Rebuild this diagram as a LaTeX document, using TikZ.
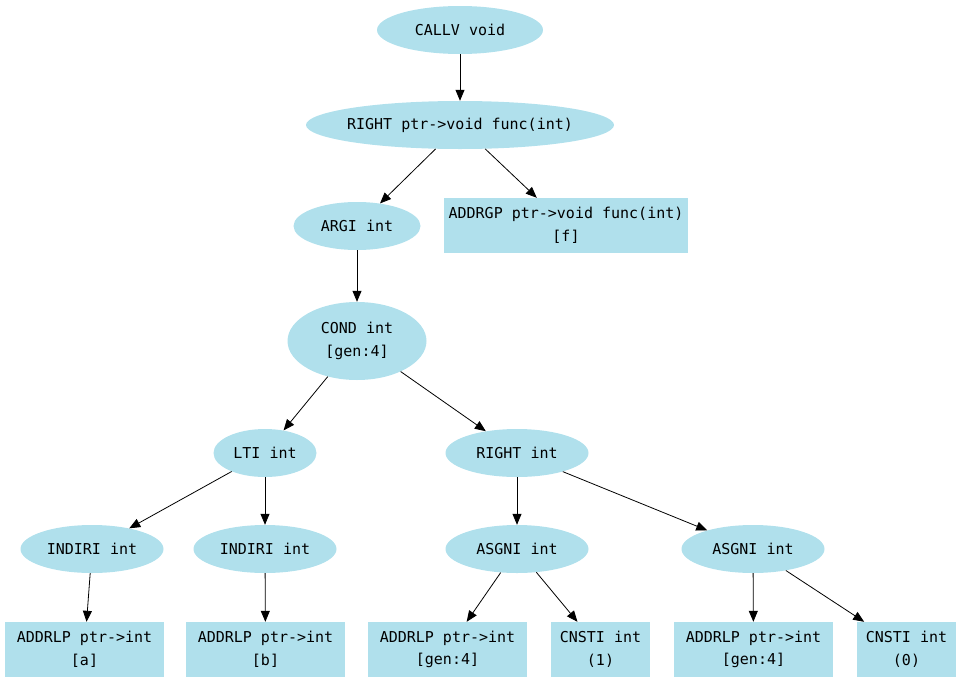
\documentclass[tikz,border=0pt]{standalone}
\usepackage{fontspec}
\setmonofont{DejaVu Sans Mono}
\usetikzlibrary{shapes.geometric,arrows.meta}
\definecolor{nodefill}{HTML}{B0E0EC}
\begin{document}
\begin{tikzpicture}[x=1pt,y=-1pt,
  every node/.style={font=\ttfamily\fontsize{15}{22.5}\selectfont,
    fill=nodefill, inner sep=0pt, align=center},
  oval/.style={ellipse, minimum height=48pt},
  leaf/.style={rectangle, minimum height=55pt},
  edge/.style={-{Triangle[length=11pt,width=9pt]}, line width=0.8pt}]
\useasboundingbox (0,0) rectangle (961,683);

% inner nodes
\node[oval, minimum width=166pt] (callv)  at (460,30)  {CALLV void};
\node[oval, minimum width=308pt, inner xsep=-5pt] (right1) at (460,125) {RIGHT ptr->void func(int)};
\node[oval, minimum width=127pt] (argi)   at (357,226) {ARGI int};
\node[oval, minimum width=139pt, minimum height=78pt] (cond) at (357,341) {COND int\\{}[gen:4]};
\node[oval, minimum width=103pt] (lti)    at (265,453) {LTI int};
\node[oval, minimum width=143pt] (right2) at (517,453) {RIGHT int};
\node[oval, minimum width=143pt] (ind1)   at (92,549)  {INDIRI int};
\node[oval, minimum width=143pt] (ind2)   at (265,549) {INDIRI int};
\node[oval, minimum width=143pt] (asg1)   at (517,549) {ASGNI int};
\node[oval, minimum width=143pt] (asg2)   at (753,549) {ASGNI int};

% leaves
\node[leaf, minimum width=244pt] (addrgp) at (566,225.5) {ADDRGP ptr->void func(int)\\{}[f]};
\node[leaf, minimum width=159pt] (lpa)  at (84.5,649.5)  {ADDRLP ptr->int\\{}[a]};
\node[leaf, minimum width=159pt] (lpb)  at (265.5,649.5) {ADDRLP ptr->int\\{}[b]};
\node[leaf, minimum width=159pt] (lpg1) at (447.5,649.5) {ADDRLP ptr->int\\{}[gen:4]};
\node[leaf, minimum width=99pt]  (cn1)  at (600.5,649.5) {CNSTI int\\(1)};
\node[leaf, minimum width=159pt] (lpg2) at (753.5,649.5) {ADDRLP ptr->int\\{}[gen:4]};
\node[leaf, minimum width=99pt]  (cn0)  at (906.5,649.5) {CNSTI int\\(0)};

% edges
\draw[edge] (callv) -- (right1);
\draw[edge] (right1) -- (argi);
\draw[edge] (right1) -- (addrgp);
\draw[edge] (argi) -- (cond);
\draw[edge] (cond) -- (lti);
\draw[edge] (cond) -- (right2);
\draw[edge] (lti) -- (ind1);
\draw[edge] (lti) -- (ind2);
\draw[edge] (ind1) -- (lpa);
\draw[edge] (ind2) -- (lpb);
\draw[edge] (right2) -- (asg1);
\draw[edge] (right2) -- (asg2);
\draw[edge] (asg1) -- (lpg1);
\draw[edge] (asg1) -- (cn1);
\draw[edge] (asg2) -- (lpg2);
\draw[edge] (asg2) -- (cn0);
\end{tikzpicture}
\end{document}
